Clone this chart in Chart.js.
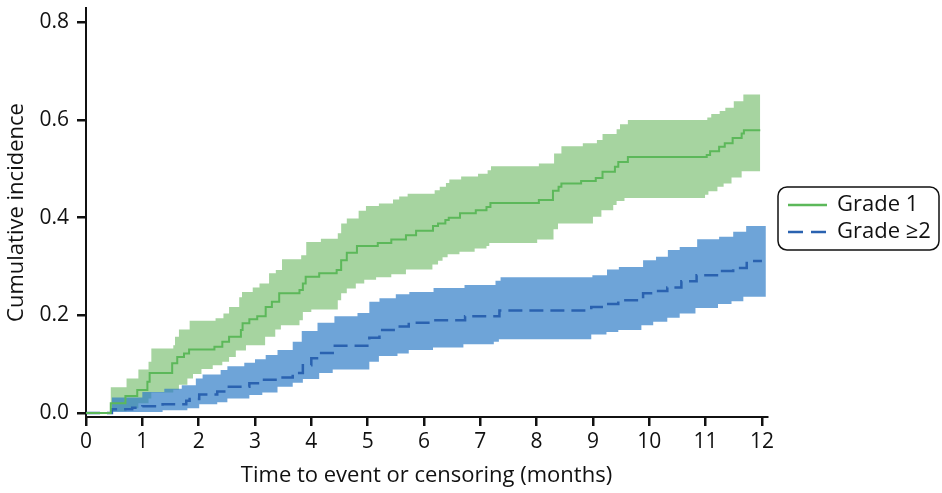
<!DOCTYPE html>
<html>
<head>
<meta charset="utf-8">
<script src="https://cdn.jsdelivr.net/npm/chart.js@4"></script>
<style>
  html, body { margin: 0; padding: 0; background: #fff; }
  #wrap { width: 942px; height: 493px; }
</style>
</head>
<body>
<div id="wrap"><canvas id="chart" width="942" height="493"></canvas></div>
<script>
// Grade 1 cumulative incidence (step function) and its confidence band
const g1Times = [0, 0.44, 0.70, 0.91, 1.09, 1.13, 1.53, 1.62, 1.74, 1.83, 2.28, 2.42, 2.54, 2.75, 2.78, 2.90, 3.04, 3.19, 3.30, 3.43, 3.79, 3.85, 3.90, 4.14, 4.45, 4.53, 4.63, 4.81, 5.18, 5.42, 5.68, 5.86, 6.16, 6.25, 6.38, 6.44, 6.64, 6.92, 7.11, 7.18, 8.04, 8.29, 8.39, 8.44, 8.79, 9.05, 9.17, 9.39, 9.45, 9.62, 11.02, 11.08, 11.24, 11.34, 11.48, 11.64, 11.68, 11.97];
const g1Values = [0, 0.020, 0.035, 0.047, 0.064, 0.082, 0.102, 0.115, 0.122, 0.130, 0.136, 0.146, 0.156, 0.170, 0.184, 0.192, 0.198, 0.217, 0.228, 0.245, 0.252, 0.265, 0.279, 0.286, 0.293, 0.313, 0.328, 0.342, 0.348, 0.355, 0.364, 0.373, 0.383, 0.388, 0.395, 0.400, 0.409, 0.415, 0.422, 0.430, 0.436, 0.455, 0.463, 0.470, 0.475, 0.481, 0.494, 0.504, 0.514, 0.524, 0.528, 0.536, 0.545, 0.552, 0.563, 0.572, 0.579, 0.579];

const g1UpTimes = [0, 0.44, 0.72, 0.93, 1.11, 1.16, 1.55, 1.58, 1.65, 1.84, 2.30, 2.44, 2.54, 2.72, 2.77, 2.96, 3.08, 3.25, 3.37, 3.48, 3.82, 3.91, 4.17, 4.47, 4.53, 4.63, 4.84, 4.97, 5.20, 5.45, 5.56, 5.71, 6.19, 6.28, 6.39, 6.45, 6.66, 6.96, 7.13, 7.19, 8.04, 8.31, 8.44, 8.82, 9.07, 9.17, 9.42, 9.48, 9.62, 11.03, 11.10, 11.25, 11.35, 11.50, 11.67, 11.97];
const g1Upper = [0, 0.053, 0.071, 0.089, 0.105, 0.132, 0.139, 0.156, 0.171, 0.189, 0.194, 0.204, 0.217, 0.237, 0.248, 0.257, 0.265, 0.286, 0.293, 0.315, 0.323, 0.350, 0.357, 0.368, 0.388, 0.398, 0.414, 0.424, 0.429, 0.437, 0.443, 0.449, 0.456, 0.463, 0.471, 0.478, 0.484, 0.490, 0.497, 0.505, 0.511, 0.531, 0.546, 0.552, 0.559, 0.571, 0.581, 0.591, 0.600, 0.605, 0.612, 0.618, 0.625, 0.638, 0.652, 0.652];

const g1LoTimes = [0, 0.44, 0.72, 0.93, 1.11, 1.16, 1.55, 1.65, 1.80, 1.90, 2.05, 2.25, 2.42, 2.54, 2.66, 2.84, 3.18, 3.36, 3.46, 3.79, 3.85, 4.00, 4.47, 4.53, 4.63, 4.79, 4.94, 5.15, 5.42, 5.68, 6.15, 6.25, 6.33, 6.42, 6.63, 6.90, 7.11, 7.16, 8.01, 8.30, 8.38, 9.00, 9.15, 9.36, 9.42, 9.56, 10.99, 11.05, 11.21, 11.32, 11.46, 11.64, 11.97];
const g1Lower = [0, 0.004, 0.010, 0.020, 0.030, 0.042, 0.048, 0.058, 0.071, 0.080, 0.090, 0.098, 0.105, 0.115, 0.128, 0.139, 0.156, 0.171, 0.180, 0.190, 0.207, 0.212, 0.231, 0.245, 0.255, 0.265, 0.273, 0.278, 0.284, 0.294, 0.304, 0.312, 0.319, 0.325, 0.330, 0.337, 0.342, 0.348, 0.355, 0.376, 0.388, 0.402, 0.415, 0.426, 0.434, 0.440, 0.447, 0.454, 0.463, 0.470, 0.482, 0.495, 0.495];

// Grade >=2 cumulative incidence and its confidence band
const g2Times = [0, 0.46, 0.82, 1.00, 1.36, 1.78, 1.84, 2.01, 2.33, 2.51, 2.90, 3.13, 3.40, 3.67, 3.85, 4.00, 4.14, 4.38, 5.03, 5.21, 5.50, 5.73, 6.15, 6.73, 7.34, 8.97, 9.24, 9.45, 9.89, 10.07, 10.32, 10.57, 10.84, 11.24, 11.49, 11.73, 12.0];
const g2Values = [0, 0.008, 0.011, 0.014, 0.018, 0.025, 0.029, 0.038, 0.044, 0.054, 0.061, 0.068, 0.073, 0.082, 0.098, 0.112, 0.123, 0.138, 0.154, 0.170, 0.177, 0.185, 0.190, 0.198, 0.210, 0.217, 0.223, 0.231, 0.245, 0.250, 0.257, 0.270, 0.282, 0.291, 0.297, 0.311, 0.311];

const g2UpTimes = [0, 0.46, 1.00, 1.39, 1.70, 1.95, 2.07, 2.39, 2.51, 2.81, 3.00, 3.19, 3.40, 3.67, 3.83, 4.11, 4.41, 4.82, 5.03, 5.21, 5.50, 5.74, 6.17, 6.72, 7.27, 7.36, 8.99, 9.25, 9.46, 9.89, 10.12, 10.33, 10.54, 10.85, 11.24, 11.49, 11.72, 12.07];
const g2Upper = [0, 0.032, 0.043, 0.050, 0.057, 0.071, 0.079, 0.088, 0.096, 0.103, 0.110, 0.119, 0.129, 0.146, 0.168, 0.185, 0.198, 0.205, 0.228, 0.235, 0.243, 0.248, 0.256, 0.262, 0.271, 0.278, 0.282, 0.294, 0.299, 0.313, 0.320, 0.334, 0.340, 0.356, 0.361, 0.371, 0.383, 0.383];

const g2LoTimes = [0, 0.46, 1.36, 1.80, 2.01, 2.33, 2.51, 2.90, 3.13, 3.40, 3.67, 3.85, 4.14, 4.38, 5.03, 5.20, 5.53, 5.73, 6.16, 6.70, 7.24, 7.33, 8.97, 9.24, 9.45, 9.86, 10.07, 10.32, 10.54, 10.82, 11.22, 11.46, 11.67, 12.07];
const g2Lower = [0, 0.002, 0.006, 0.010, 0.018, 0.022, 0.030, 0.037, 0.042, 0.054, 0.062, 0.070, 0.082, 0.089, 0.105, 0.117, 0.122, 0.129, 0.134, 0.141, 0.146, 0.151, 0.161, 0.166, 0.170, 0.180, 0.187, 0.195, 0.204, 0.215, 0.223, 0.229, 0.238, 0.238];

const xTicks = [0, 1, 2, 3, 4, 5, 6, 7, 8, 9, 10, 11, 12];
const yTicks = [0, 0.2, 0.4, 0.6, 0.8];
const seriesLabels = ['Grade 1', 'Grade \u22652'];

const FONT = '"Open Sans", "DejaVu Sans", sans-serif';
const GREEN_LINE = '#5cb85a';
const GREEN_BAND = 'rgba(107, 183, 97, 0.6)';
const BLUE_LINE = '#2a62b0';
const BLUE_BAND = 'rgba(49, 126, 199, 0.7)';
const DASH = [14, 7];

const pts = (xs, ys) => xs.map((x, i) => ({ x: x, y: ys[i] }));

// rounded legend box drawn outside the plot on the right
const boxLegend = {
    id: 'boxLegend',
    afterDraw(chart) {
        const ctx = chart.ctx;
        const x = 778, y = 187, w = 161, h = 63, r = 9;
        ctx.save();
        ctx.beginPath();
        ctx.moveTo(x + r, y);
        ctx.arcTo(x + w, y, x + w, y + h, r);
        ctx.arcTo(x + w, y + h, x, y + h, r);
        ctx.arcTo(x, y + h, x, y, r);
        ctx.arcTo(x, y, x + w, y, r);
        ctx.closePath();
        ctx.fillStyle = '#fff';
        ctx.fill();
        ctx.lineWidth = 1.5;
        ctx.strokeStyle = '#111';
        ctx.stroke();

        ctx.lineWidth = 2.5;
        ctx.strokeStyle = GREEN_LINE;
        ctx.setLineDash([]);
        ctx.beginPath();
        ctx.moveTo(788, 205);
        ctx.lineTo(827, 205);
        ctx.stroke();

        ctx.strokeStyle = BLUE_LINE;
        ctx.setLineDash([15, 8]);
        ctx.beginPath();
        ctx.moveTo(788, 232);
        ctx.lineTo(826, 232);
        ctx.stroke();
        ctx.setLineDash([]);

        ctx.fillStyle = '#111';
        ctx.font = '22px ' + FONT;
        ctx.textBaseline = 'middle';
        ctx.fillText(seriesLabels[0], 837, 205);
        ctx.fillText(seriesLabels[1], 837, 232);
        ctx.restore();
    }
};

const ctx = document.getElementById('chart').getContext('2d');
new Chart(ctx, {
    type: 'line',
    data: {
        datasets: [{
            label: 'Grade 1 upper',
            data: pts(g1UpTimes, g1Upper),
            stepped: 'before',
            borderWidth: 0,
            borderColor: 'rgba(0,0,0,0)',
            backgroundColor: GREEN_BAND,
            pointRadius: 0,
            fill: '+1',
            order: 5
        }, {
            label: 'Grade 1 lower',
            data: pts(g1LoTimes, g1Lower),
            stepped: 'before',
            borderWidth: 0,
            borderColor: 'rgba(0,0,0,0)',
            pointRadius: 0,
            fill: false,
            order: 4
        }, {
            label: 'Grade 2 upper',
            data: pts(g2UpTimes, g2Upper),
            stepped: 'before',
            borderWidth: 0,
            borderColor: 'rgba(0,0,0,0)',
            backgroundColor: BLUE_BAND,
            pointRadius: 0,
            fill: '+1',
            order: 3
        }, {
            label: 'Grade 2 lower',
            data: pts(g2LoTimes, g2Lower),
            stepped: 'before',
            borderWidth: 0,
            borderColor: 'rgba(0,0,0,0)',
            pointRadius: 0,
            fill: false,
            order: 2
        }, {
            label: seriesLabels[1],
            data: pts(g2Times, g2Values),
            stepped: 'before',
            borderColor: BLUE_LINE,
            borderWidth: 2.5,
            borderDash: DASH,
            pointRadius: 0,
            fill: false,
            order: 1
        }, {
            label: seriesLabels[0],
            data: pts(g1Times, g1Values),
            stepped: 'before',
            borderColor: GREEN_LINE,
            borderWidth: 2,
            pointRadius: 0,
            fill: false,
            order: 0
        }]
    },
    options: {
        responsive: false,
        animation: false,
        layout: { padding: { top: 8, right: 175, left: 0, bottom: 0 } },
        plugins: {
            legend: { display: false },
            tooltip: { enabled: false }
        },
        scales: {
            x: {
                type: 'linear',
                min: 0,
                max: 12.09,
                afterBuildTicks: axis => { axis.ticks = xTicks.map(v => ({ value: v })); },
                afterFit: axis => {
                    axis.height = 76;
                    axis.paddingLeft = 0;
                    axis.paddingRight = 0;
                },
                ticks: {
                    color: '#111',
                    font: { family: FONT, size: 21 },
                    padding: 3,
                    maxRotation: 0
                },
                grid: { drawOnChartArea: false, drawTicks: true, tickLength: 9, color: '#111', lineWidth: 2.5 },
                border: { display: true, color: '#111', width: 2 },
                title: {
                    display: true,
                    text: 'Time to event or censoring (months)',
                    color: '#111',
                    font: { family: FONT, size: 22 },
                    padding: { top: 4, bottom: 4 }
                }
            },
            y: {
                min: -0.008,
                max: 0.829,
                afterBuildTicks: axis => { axis.ticks = yTicks.map(v => ({ value: v })); },
                afterFit: axis => {
                    axis.width = 86;
                    axis.paddingTop = 0;
                    axis.paddingBottom = 0;
                },
                ticks: {
                    color: '#111',
                    font: { family: FONT, size: 21 },
                    padding: 8,
                    callback: v => v.toFixed(1)
                },
                grid: { drawOnChartArea: false, drawTicks: true, tickLength: 9, color: '#111', lineWidth: 2.5 },
                border: { display: true, color: '#111', width: 2 },
                title: {
                    display: true,
                    text: 'Cumulative incidence',
                    color: '#111',
                    font: { family: FONT, size: 22 },
                    padding: { top: 4, bottom: 4 }
                }
            }
        }
    },
    plugins: [boxLegend]
});
</script>
</body>
</html>
